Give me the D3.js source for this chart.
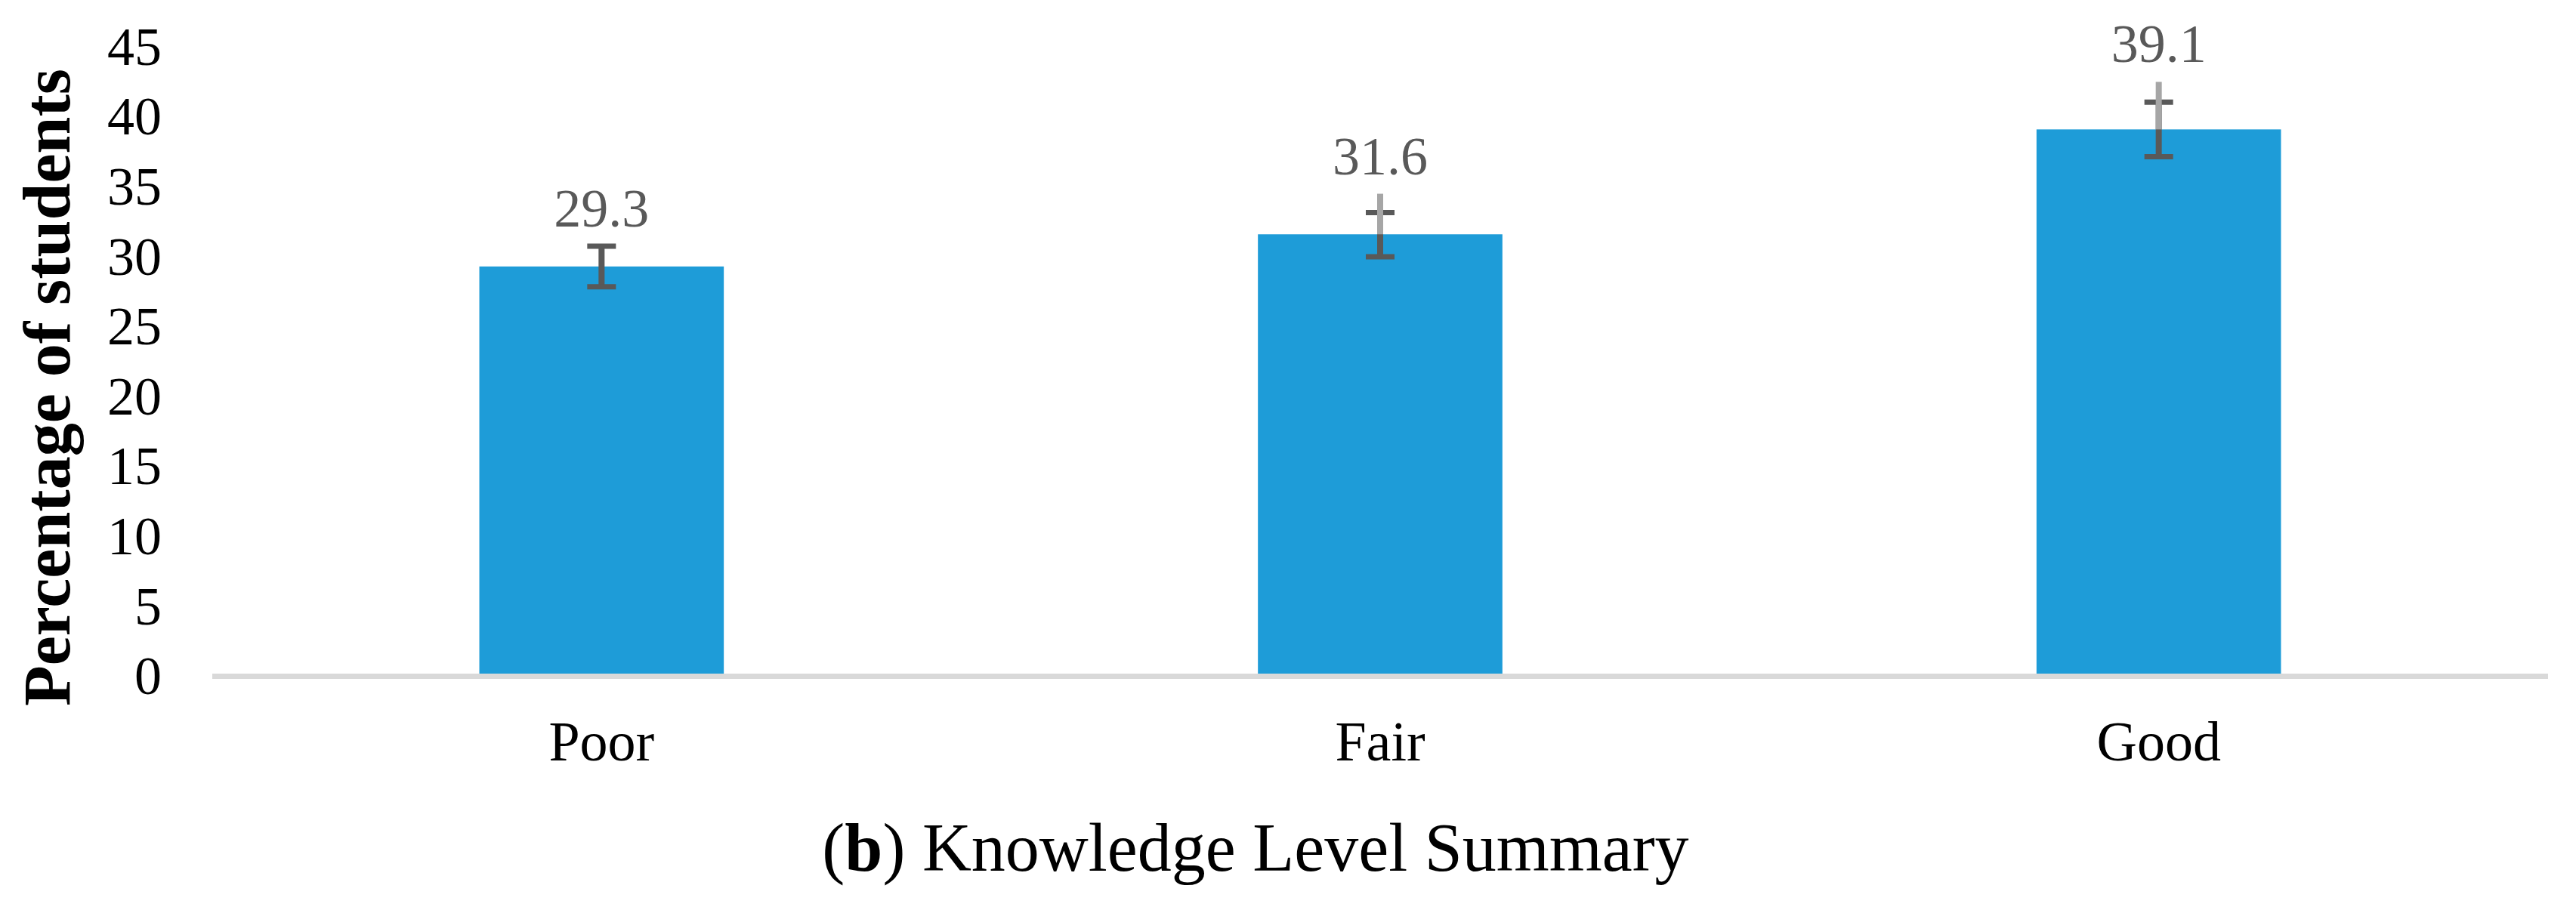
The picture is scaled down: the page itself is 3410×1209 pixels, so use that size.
<!DOCTYPE html>
<html>
<head>
<meta charset="utf-8">
<script src="https://cdn.jsdelivr.net/npm/d3@7"></script>
<style>
  html, body { margin: 0; padding: 0; background: #ffffff; }
  svg { display: block; }
</style>
</head>
<body>
<script>
// ---- data ----
const categories = ["Poor", "Fair", "Good"];
const values = [29.3, 31.6, 39.1];
const errorMinus = [1.45, 1.6, 1.95];
const errorPlus = [1.45, 1.55, 1.95];
const extraUpper = [0, 2.9, 3.4];       // light grey upper whisker
const yTicks = [0, 5, 10, 15, 20, 25, 30, 35, 40, 45];
const yTitle = "Percentage of students";
const captionBold = "b";
const captionText = " Knowledge Level Summary";

// ---- layout ----
const W = 3410, H = 1209;
const plotLeft = 281, plotRight = 3373;
const fontFam = "'Liberation Serif', 'Times New Roman', serif";

const svg = d3.select("body").append("svg")
  .attr("width", W).attr("height", H)
  .attr("viewBox", `0 0 ${W} ${H}`);

const y = d3.scaleLinear().domain([0, 45]).range([895.5, 62.1]);
const x = d3.scaleBand().domain(categories)
  .range([plotLeft, plotRight]).paddingInner(0.686).paddingOuter(0.343);

const data = categories.map((c, i) => ({
  c, v: values[i], lo: values[i] - errorMinus[i], hi: values[i] + errorPlus[i],
  ext: values[i] + extraUpper[i], hasExt: extraUpper[i] > 0
}));

// bars
svg.append("g").selectAll("rect").data(data).join("rect")
  .attr("x", d => x(d.c))
  .attr("width", x.bandwidth())
  .attr("y", d => y(d.v))
  .attr("height", d => y(0) - y(d.v))
  .attr("fill", "#1E9CD8");

// axis line
svg.append("line")
  .attr("x1", plotLeft).attr("x2", plotRight)
  .attr("y1", y(0)).attr("y2", y(0))
  .attr("stroke", "#D9D9D9").attr("stroke-width", 7);

// error bars (dark)
const eg = svg.append("g");
const capW = 38;
data.forEach(d => {
  const cx = x(d.c) + x.bandwidth() / 2;
  eg.append("line").attr("x1", cx).attr("x2", cx)
    .attr("y1", y(d.lo)).attr("y2", y(d.hi))
    .attr("stroke", "#595959").attr("stroke-width", 8);
  [d.lo, d.hi].forEach(v => {
    eg.append("line").attr("x1", cx - capW / 2).attr("x2", cx + capW / 2)
      .attr("y1", y(v)).attr("y2", y(v))
      .attr("stroke", "#595959").attr("stroke-width", 7);
  });
  if (d.hasExt) {
    eg.append("line").attr("x1", cx).attr("x2", cx)
      .attr("y1", y(d.v)).attr("y2", y(d.ext))
      .attr("stroke", "#A6A6A6").attr("stroke-width", 8);
  }
});

// data labels
svg.append("g").selectAll("text").data(data).join("text")
  .attr("x", d => x(d.c) + x.bandwidth() / 2)
  .attr("y", d => y(Math.max(d.hi, d.ext)) - 26)
  .attr("text-anchor", "middle")
  .attr("font-family", fontFam)
  .attr("font-size", 72)
  .attr("fill", "#595959")
  .text(d => d.v.toFixed(1));

// y tick labels
svg.append("g").selectAll("text").data(yTicks).join("text")
  .attr("x", 214)
  .attr("y", d => y(d))
  .attr("dy", "0.33em")
  .attr("text-anchor", "end")
  .attr("font-family", fontFam)
  .attr("font-size", 72)
  .attr("fill", "#000")
  .text(d => d);

// x labels
svg.append("g").selectAll("text").data(categories).join("text")
  .attr("x", d => x(d) + x.bandwidth() / 2)
  .attr("y", 1007)
  .attr("text-anchor", "middle")
  .attr("font-family", fontFam)
  .attr("font-size", 74)
  .attr("fill", "#000")
  .text(d => d);

// y title
svg.append("text")
  .attr("transform", "translate(92,513) rotate(-90)")
  .attr("text-anchor", "middle")
  .attr("font-family", fontFam)
  .attr("font-size", 88)
  .attr("font-weight", "bold")
  .attr("fill", "#000")
  .text(yTitle);

// caption
const cap = svg.append("text")
  .attr("x", 1662).attr("y", 1153)
  .attr("text-anchor", "middle")
  .attr("font-family", fontFam)
  .attr("font-size", 90)
  .attr("fill", "#000");
cap.append("tspan").text("(");
cap.append("tspan").attr("font-weight", "bold").text(captionBold);
cap.append("tspan").text(")" + captionText);
</script>
</body>
</html>
